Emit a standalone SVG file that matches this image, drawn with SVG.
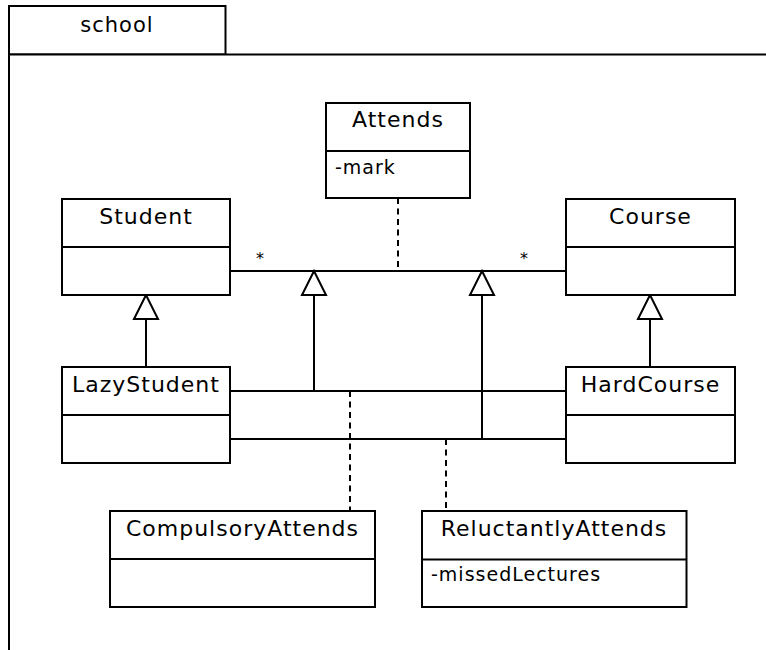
<svg xmlns="http://www.w3.org/2000/svg" width="766" height="650" viewBox="0 0 766 650">
  <style>
    .box { fill: #ffffff; stroke: #000000; stroke-width: 2; }
    .sep { stroke: #000000; stroke-width: 2; }
    .name { font-family: "DejaVu Sans", "Verdana", sans-serif; font-size: 22px; letter-spacing: 1px; fill: #000000; text-anchor: middle; }
    .attr { font-family: "DejaVu Sans", "Verdana", sans-serif; font-size: 19px; letter-spacing: 1px; fill: #000000; }
    .mult { font-family: "DejaVu Sans", "Verdana", sans-serif; font-size: 16px; fill: #000000; text-anchor: middle; }
    .assoc { fill: none; stroke: #000000; stroke-width: 2; }
    .gen { fill: none; stroke: #000000; stroke-width: 2; marker-end: url(#hollowTriangle); }
    .dashed { fill: none; stroke: #000000; stroke-width: 2; stroke-dasharray: 6 4.5; }
  </style>
  <defs>
    <!-- hollow triangle for generalization arrows -->
    <marker id="hollowTriangle" viewBox="-2 -2 28 28" refX="24" refY="12" markerWidth="28" markerHeight="28" markerUnits="userSpaceOnUse" orient="auto">
      <path d="M0,0 L24,12 L0,24 Z" fill="#ffffff" stroke="#000000" stroke-width="2" stroke-linejoin="miter"/>
    </marker>
  </defs>

  <rect x="0" y="0" width="766" height="650" fill="#ffffff"/>

  <!-- package frame -->
  <g id="package-school">
    <rect class="box" x="9" y="6" width="216.5" height="48.5"/>
    <rect class="box" x="9" y="54.5" width="800" height="700"/>
    <text x="117" y="32" class="name" style="font-size:21px">school</text>
  </g>

  <!-- connectors -->
  <g id="connectors">
    <!-- Student * — * Course -->
    <line class="assoc" x1="231" y1="271" x2="566" y2="271"/>
    <text class="mult" x="260" y="264">*</text>
    <text class="mult" x="524" y="264">*</text>
    <!-- association class Attends -->
    <line class="dashed" x1="398" y1="198" x2="398" y2="271"/>

    <!-- LazyStudent — HardCourse (specializes Attends association) -->
    <line class="assoc" x1="231" y1="391" x2="566" y2="391"/>
    <line class="gen" x1="314" y1="391" x2="314" y2="271"/>
    <line class="dashed" x1="350" y1="391" x2="350" y2="511"/>

    <!-- LazyStudent — HardCourse (second association) -->
    <line class="assoc" x1="231" y1="439" x2="566" y2="439"/>
    <line class="gen" x1="482" y1="439" x2="482" y2="271"/>
    <line class="dashed" x1="446" y1="439" x2="446" y2="511"/>

    <!-- class inheritance -->
    <line class="gen" x1="146" y1="367" x2="146" y2="295"/>
    <line class="gen" x1="650" y1="367" x2="650" y2="295"/>
  </g>

  <g id="Attends">
    <rect class="box" x="326" y="103" width="144" height="95"/>
    <line class="sep" x1="326" y1="151" x2="470" y2="151"/>
    <text class="name" x="398" y="127">Attends</text>
    <text class="attr" x="335" y="174">-mark</text>
  </g>

  <g id="Student">
    <rect class="box" x="62" y="199" width="168" height="96"/>
    <line class="sep" x1="62" y1="247" x2="230" y2="247"/>
    <text class="name" x="146" y="224">Student</text>
  </g>

  <g id="Course">
    <rect class="box" x="566" y="199" width="169" height="96"/>
    <line class="sep" x1="566" y1="247" x2="735" y2="247"/>
    <text class="name" x="650.5" y="224">Course</text>
  </g>

  <g id="LazyStudent">
    <rect class="box" x="62" y="367" width="168" height="96"/>
    <line class="sep" x1="62" y1="415" x2="230" y2="415"/>
    <text class="name" x="146" y="392">LazyStudent</text>
  </g>

  <g id="HardCourse">
    <rect class="box" x="566" y="367" width="169" height="96"/>
    <line class="sep" x1="566" y1="415" x2="735" y2="415"/>
    <text class="name" x="650.5" y="392">HardCourse</text>
  </g>

  <g id="CompulsoryAttends">
    <rect class="box" x="110" y="511" width="265" height="96"/>
    <line class="sep" x1="110" y1="559" x2="375" y2="559"/>
    <text class="name" x="242.5" y="536">CompulsoryAttends</text>
  </g>

  <g id="ReluctantlyAttends">
    <rect class="box" x="422" y="511" width="264.5" height="96"/>
    <line class="sep" x1="422" y1="559.5" x2="686.5" y2="559.5"/>
    <text class="name" x="554" y="536">ReluctantlyAttends</text>
    <text class="attr" x="431" y="581">-missedLectures</text>
  </g>
</svg>
